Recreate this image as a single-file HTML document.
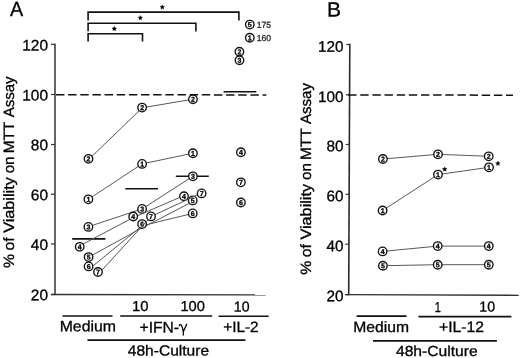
<!DOCTYPE html>
<html><head><meta charset="utf-8"><title>Figure</title>
<style>html,body{margin:0;padding:0;background:#fff;}body{width:520px;height:358px;overflow:hidden;}svg{display:block;will-change:transform;}text{font-family:"Liberation Sans",sans-serif;fill:#000;stroke:#000;stroke-width:0.3px;}</style>
</head><body>
<svg width="520" height="358" viewBox="0 0 520 358">
<rect width="520" height="358" fill="#fff"/>
<path d="M55.0,43.7L55.0,295.1" fill="none" stroke="#505050" stroke-width="1.75"/>
<path d="M51.0,294.5L265.6,294.8" fill="none" stroke="#333" stroke-width="1.3"/>
<line x1="51.0" y1="44.3" x2="55.0" y2="44.3" stroke="#333" stroke-width="1.2"/>
<line x1="51.0" y1="94.5" x2="55.0" y2="94.5" stroke="#333" stroke-width="1.2"/>
<line x1="51.0" y1="144.5" x2="55.0" y2="144.5" stroke="#333" stroke-width="1.2"/>
<line x1="51.0" y1="194.2" x2="55.0" y2="194.2" stroke="#333" stroke-width="1.2"/>
<line x1="51.0" y1="243.9" x2="55.0" y2="243.9" stroke="#333" stroke-width="1.2"/>
<line x1="51.0" y1="294.5" x2="55.0" y2="294.5" stroke="#333" stroke-width="1.2"/>
<line x1="56.0" y1="94.8" x2="266.3" y2="94.9" stroke="#111" stroke-width="1.5" stroke-dasharray="8.4 3.75"/>
<text transform="translate(22.21,50.60) rotate(0.03) scale(1.0100,1)" font-size="15.3">120</text>
<text transform="translate(22.21,100.60) rotate(0.03) scale(1.0100,1)" font-size="15.3">100</text>
<text transform="translate(30.83,150.30) rotate(0.03) scale(1.0100,1)" font-size="15.3">80</text>
<text transform="translate(30.83,200.30) rotate(0.03) scale(1.0100,1)" font-size="15.3">60</text>
<text transform="translate(30.83,250.10) rotate(0.03) scale(1.0100,1)" font-size="15.3">40</text>
<text transform="translate(30.83,300.30) rotate(0.03) scale(1.0100,1)" font-size="15.3">20</text>
<path d="M349.8,43.8L348.7,295.2" fill="none" stroke="#2a2a2a" stroke-width="1.6"/>
<path d="M345.09999999999997,294.65L518.7,295.3" fill="none" stroke="#333" stroke-width="1.3"/>
<line x1="346.2" y1="44.5" x2="349.8" y2="44.5" stroke="#333" stroke-width="1.2"/>
<line x1="346.0" y1="94.8" x2="349.6" y2="94.8" stroke="#333" stroke-width="1.2"/>
<line x1="345.8" y1="144.5" x2="349.4" y2="144.5" stroke="#333" stroke-width="1.2"/>
<line x1="345.5" y1="194.3" x2="349.1" y2="194.3" stroke="#333" stroke-width="1.2"/>
<line x1="345.3" y1="244.2" x2="348.9" y2="244.2" stroke="#333" stroke-width="1.2"/>
<line x1="345.1" y1="294.6" x2="348.7" y2="294.6" stroke="#333" stroke-width="1.2"/>
<line x1="348.1" y1="94.9" x2="513.0" y2="95.2" stroke="#111" stroke-width="1.5" stroke-dasharray="8.4 3.75"/>
<text transform="translate(317.91,51.70) rotate(0.03) scale(1.0000,1)" font-size="15.3">120</text>
<text transform="translate(317.91,101.95) rotate(0.03) scale(1.0000,1)" font-size="15.3">100</text>
<text transform="translate(326.44,151.35) rotate(0.03) scale(1.0000,1)" font-size="15.3">80</text>
<text transform="translate(326.44,201.15) rotate(0.03) scale(1.0000,1)" font-size="15.3">60</text>
<text transform="translate(326.44,251.35) rotate(0.03) scale(1.0000,1)" font-size="15.3">40</text>
<text transform="translate(326.44,301.20) rotate(0.03) scale(1.0000,1)" font-size="15.3">20</text>
<text transform="translate(14.0,267.50) rotate(-89.97) scale(1.0520,1)" x="-0.53" y="0" font-size="15.0">%</text>
<text transform="translate(14.0,249.90) rotate(-89.97) scale(1.0515,1)" x="-0.64" y="0" font-size="15.0">of</text>
<text transform="translate(14.0,232.80) rotate(-89.97) scale(1.0838,1)" x="-0.07" y="0" font-size="15.0">Viability</text>
<text transform="translate(14.0,172.70) rotate(-89.97) scale(1.0108,1)" x="-0.64" y="0" font-size="15.0">on</text>
<text transform="translate(14.0,152.00) rotate(-89.97) scale(1.0222,1)" x="-1.24" y="0" font-size="15.0">MTT</text>
<text transform="translate(14.0,117.30) rotate(-89.97) scale(1.0034,1)" x="-0.04" y="0" font-size="15.0">Assay</text>
<text transform="translate(311.1,274.20) rotate(-89.97) scale(1.0520,1)" x="-0.53" y="0" font-size="15.0">%</text>
<text transform="translate(311.1,256.60) rotate(-89.97) scale(1.0515,1)" x="-0.64" y="0" font-size="15.0">of</text>
<text transform="translate(311.1,239.50) rotate(-89.97) scale(1.0838,1)" x="-0.07" y="0" font-size="15.0">Viability</text>
<text transform="translate(311.1,179.40) rotate(-89.97) scale(1.0108,1)" x="-0.64" y="0" font-size="15.0">on</text>
<text transform="translate(311.1,158.70) rotate(-89.97) scale(1.0222,1)" x="-1.24" y="0" font-size="15.0">MTT</text>
<text transform="translate(311.1,124.00) rotate(-89.97) scale(1.0034,1)" x="-0.04" y="0" font-size="15.0">Assay</text>
<text transform="translate(9.95,15.90) rotate(0.03) scale(0.9599,1)" font-size="20.6">A</text>
<text transform="translate(327.06,16.40) rotate(0.03) scale(1.0210,1)" font-size="20.6">B</text>
<path d="M88.1,20.4V12.1H238.9V20.5" fill="none" stroke="#111" stroke-width="1.6"/>
<path d="M88.1,31.2V23.3H195.9V31.6" fill="none" stroke="#111" stroke-width="1.6"/>
<path d="M88.1,41.5V33.8H142.5V41.5" fill="none" stroke="#111" stroke-width="1.6"/>
<polygon points="162.30,4.75 162.98,6.27 164.63,6.44 163.40,7.56 163.74,9.18 162.30,8.35 160.86,9.18 161.20,7.56 159.97,6.44 161.62,6.27" fill="#000" stroke="#000" stroke-width="0.3"/>
<polygon points="140.30,15.45 140.98,16.97 142.63,17.14 141.40,18.26 141.74,19.88 140.30,19.05 138.86,19.88 139.20,18.26 137.97,17.14 139.62,16.97" fill="#000" stroke="#000" stroke-width="0.3"/>
<polygon points="114.30,26.35 114.98,27.87 116.63,28.04 115.40,29.16 115.74,30.78 114.30,29.95 112.86,30.78 113.20,29.16 111.97,28.04 113.62,27.87" fill="#000" stroke="#000" stroke-width="0.3"/>
<polygon points="444.70,166.85 445.38,168.37 447.03,168.54 445.80,169.66 446.14,171.28 444.70,170.45 443.26,171.28 443.60,169.66 442.37,168.54 444.02,168.37" fill="#000" stroke="#000" stroke-width="0.3"/>
<polygon points="497.90,161.05 498.58,162.57 500.23,162.74 499.00,163.86 499.34,165.48 497.90,164.65 496.46,165.48 496.80,163.86 495.57,162.74 497.22,162.57" fill="#000" stroke="#000" stroke-width="0.3"/>
<line x1="72.2" y1="238.9" x2="105.4" y2="238.9" stroke="#111" stroke-width="1.6"/>
<line x1="125.3" y1="188.8" x2="158.0" y2="188.8" stroke="#111" stroke-width="1.6"/>
<line x1="175.8" y1="176.3" x2="208.8" y2="176.3" stroke="#111" stroke-width="1.6"/>
<line x1="223.6" y1="91.7" x2="256.3" y2="91.7" stroke="#111" stroke-width="1.6"/>
<path d="M88.4,199.3 L142.1,163.9 L192.9,153.2" fill="none" stroke="#585858" stroke-width="1.0" stroke-linejoin="round"/>
<circle cx="88.4" cy="199.3" r="4.25" fill="#fff" stroke="#111" stroke-width="1.35"/>
<text transform="translate(88.4,201.80) rotate(0.03)" font-size="7.0" font-weight="bold" text-anchor="middle" stroke-width="0.1">1</text>
<circle cx="142.1" cy="163.9" r="4.25" fill="#fff" stroke="#111" stroke-width="1.35"/>
<text transform="translate(142.1,166.40) rotate(0.03)" font-size="7.0" font-weight="bold" text-anchor="middle" stroke-width="0.1">1</text>
<circle cx="192.9" cy="153.2" r="4.25" fill="#fff" stroke="#111" stroke-width="1.35"/>
<text transform="translate(192.9,155.70) rotate(0.03)" font-size="7.0" font-weight="bold" text-anchor="middle" stroke-width="0.1">1</text>
<path d="M88.9,159.2 L142.3,107.8 L192.95,99.2" fill="none" stroke="#585858" stroke-width="1.0" stroke-linejoin="round"/>
<circle cx="88.5" cy="158.8" r="4.25" fill="#fff" stroke="#111" stroke-width="1.35"/>
<text transform="translate(88.5,161.30) rotate(0.03)" font-size="7.0" font-weight="bold" text-anchor="middle" stroke-width="0.1">2</text>
<circle cx="142.1" cy="107.6" r="4.25" fill="#fff" stroke="#111" stroke-width="1.35"/>
<text transform="translate(142.1,110.10) rotate(0.03)" font-size="7.0" font-weight="bold" text-anchor="middle" stroke-width="0.1">2</text>
<circle cx="192.95" cy="99.2" r="4.25" fill="#fff" stroke="#111" stroke-width="1.35"/>
<text transform="translate(192.95,101.70) rotate(0.03)" font-size="7.0" font-weight="bold" text-anchor="middle" stroke-width="0.1">2</text>
<path d="M88.4,226.7 L142.1,208.9 L192.9,176.3" fill="none" stroke="#585858" stroke-width="1.0" stroke-linejoin="round"/>
<circle cx="88.4" cy="226.9" r="4.25" fill="#fff" stroke="#111" stroke-width="1.35"/>
<text transform="translate(88.4,229.40) rotate(0.03)" font-size="7.0" font-weight="bold" text-anchor="middle" stroke-width="0.1">3</text>
<circle cx="142.1" cy="208.9" r="4.25" fill="#fff" stroke="#111" stroke-width="1.35"/>
<text transform="translate(142.1,211.40) rotate(0.03)" font-size="7.0" font-weight="bold" text-anchor="middle" stroke-width="0.1">3</text>
<circle cx="192.9" cy="176.3" r="4.25" fill="#fff" stroke="#111" stroke-width="1.35"/>
<text transform="translate(192.9,178.80) rotate(0.03)" font-size="7.0" font-weight="bold" text-anchor="middle" stroke-width="0.1">3</text>
<path d="M79.7,245.8 L133.2,217.6 L184.0,195.6" fill="none" stroke="#585858" stroke-width="1.0" stroke-linejoin="round"/>
<circle cx="79.7" cy="246.8" r="4.25" fill="#fff" stroke="#111" stroke-width="1.35"/>
<text transform="translate(79.7,249.30) rotate(0.03)" font-size="7.0" font-weight="bold" text-anchor="middle" stroke-width="0.1">4</text>
<circle cx="133.2" cy="216.5" r="4.25" fill="#fff" stroke="#111" stroke-width="1.35"/>
<text transform="translate(133.2,219.00) rotate(0.03)" font-size="7.0" font-weight="bold" text-anchor="middle" stroke-width="0.1">4</text>
<circle cx="184.0" cy="196.2" r="4.25" fill="#fff" stroke="#111" stroke-width="1.35"/>
<text transform="translate(184.0,198.70) rotate(0.03)" font-size="7.0" font-weight="bold" text-anchor="middle" stroke-width="0.1">4</text>
<path d="M88.6,257.2 L142.1,227.8 L192.7,201.6" fill="none" stroke="#585858" stroke-width="1.0" stroke-linejoin="round"/>
<circle cx="88.6" cy="257.1" r="4.25" fill="#fff" stroke="#111" stroke-width="1.35"/>
<text transform="translate(88.6,259.60) rotate(0.03)" font-size="7.0" font-weight="bold" text-anchor="middle" stroke-width="0.1">5</text>
<circle cx="192.7" cy="200.4" r="4.25" fill="#fff" stroke="#111" stroke-width="1.35"/>
<text transform="translate(192.7,202.90) rotate(0.03)" font-size="7.0" font-weight="bold" text-anchor="middle" stroke-width="0.1">5</text>
<path d="M88.6,269.5 L142.1,225.8 L192.7,213.4" fill="none" stroke="#585858" stroke-width="1.0" stroke-linejoin="round"/>
<circle cx="88.6" cy="266.4" r="4.25" fill="#fff" stroke="#111" stroke-width="1.35"/>
<text transform="translate(88.6,268.90) rotate(0.03)" font-size="7.0" font-weight="bold" text-anchor="middle" stroke-width="0.1">6</text>
<circle cx="142.1" cy="224.1" r="4.25" fill="#fff" stroke="#111" stroke-width="1.35"/>
<text transform="translate(142.1,226.60) rotate(0.03)" font-size="7.0" font-weight="bold" text-anchor="middle" stroke-width="0.1">6</text>
<circle cx="192.7" cy="213.4" r="4.25" fill="#fff" stroke="#111" stroke-width="1.35"/>
<text transform="translate(192.7,215.90) rotate(0.03)" font-size="7.0" font-weight="bold" text-anchor="middle" stroke-width="0.1">6</text>
<path d="M98.0,274.5 L151.0,216.5 L201.6,193.0" fill="none" stroke="#585858" stroke-width="1.0" stroke-linejoin="round"/>
<circle cx="98.0" cy="272.0" r="4.25" fill="#fff" stroke="#111" stroke-width="1.35"/>
<text transform="translate(98.0,274.50) rotate(0.03)" font-size="7.0" font-weight="bold" text-anchor="middle" stroke-width="0.1">7</text>
<circle cx="151.0" cy="216.4" r="4.25" fill="#fff" stroke="#111" stroke-width="1.35"/>
<text transform="translate(151.0,218.90) rotate(0.03)" font-size="7.0" font-weight="bold" text-anchor="middle" stroke-width="0.1">7</text>
<circle cx="201.6" cy="193.4" r="4.25" fill="#fff" stroke="#111" stroke-width="1.35"/>
<text transform="translate(201.6,195.90) rotate(0.03)" font-size="7.0" font-weight="bold" text-anchor="middle" stroke-width="0.1">7</text>
<circle cx="249.8" cy="24.6" r="4.25" fill="#fff" stroke="#111" stroke-width="1.35"/>
<text transform="translate(249.8,27.10) rotate(0.03)" font-size="7.0" font-weight="bold" text-anchor="middle" stroke-width="0.1">5</text>
<circle cx="249.8" cy="37.7" r="4.25" fill="#fff" stroke="#111" stroke-width="1.35"/>
<text transform="translate(249.8,40.20) rotate(0.03)" font-size="7.0" font-weight="bold" text-anchor="middle" stroke-width="0.1">1</text>
<circle cx="239.4" cy="51.7" r="4.25" fill="#fff" stroke="#111" stroke-width="1.35"/>
<text transform="translate(239.4,54.20) rotate(0.03)" font-size="7.0" font-weight="bold" text-anchor="middle" stroke-width="0.1">2</text>
<circle cx="239.5" cy="60.2" r="4.25" fill="#fff" stroke="#111" stroke-width="1.35"/>
<text transform="translate(239.5,62.70) rotate(0.03)" font-size="7.0" font-weight="bold" text-anchor="middle" stroke-width="0.1">3</text>
<circle cx="240.9" cy="152.2" r="4.25" fill="#fff" stroke="#111" stroke-width="1.35"/>
<text transform="translate(240.9,154.70) rotate(0.03)" font-size="7.0" font-weight="bold" text-anchor="middle" stroke-width="0.1">4</text>
<circle cx="240.9" cy="182.3" r="4.25" fill="#fff" stroke="#111" stroke-width="1.35"/>
<text transform="translate(240.9,184.80) rotate(0.03)" font-size="7.0" font-weight="bold" text-anchor="middle" stroke-width="0.1">7</text>
<circle cx="240.9" cy="202.5" r="4.25" fill="#fff" stroke="#111" stroke-width="1.35"/>
<text transform="translate(240.9,205.00) rotate(0.03)" font-size="7.0" font-weight="bold" text-anchor="middle" stroke-width="0.1">6</text>
<text transform="translate(256.66,27.70) rotate(0.03) scale(1.0000,1)" font-size="8.6" stroke-width="0.1" style="fill:#2a2a2a;stroke:#2a2a2a">175</text>
<text transform="translate(256.66,40.90) rotate(0.03) scale(1.0000,1)" font-size="8.6" stroke-width="0.1" style="fill:#2a2a2a;stroke:#2a2a2a">160</text>
<path d="M382.9,265.7 L437.7,264.7 L488.8,264.7" fill="none" stroke="#585858" stroke-width="1.0" stroke-linejoin="round"/>
<circle cx="382.9" cy="265.7" r="4.25" fill="#fff" stroke="#111" stroke-width="1.35"/>
<text transform="translate(382.9,268.20) rotate(0.03)" font-size="7.0" font-weight="bold" text-anchor="middle" stroke-width="0.1">5</text>
<circle cx="437.7" cy="264.7" r="4.25" fill="#fff" stroke="#111" stroke-width="1.35"/>
<text transform="translate(437.7,267.20) rotate(0.03)" font-size="7.0" font-weight="bold" text-anchor="middle" stroke-width="0.1">5</text>
<circle cx="488.8" cy="264.7" r="4.25" fill="#fff" stroke="#111" stroke-width="1.35"/>
<text transform="translate(488.8,267.20) rotate(0.03)" font-size="7.0" font-weight="bold" text-anchor="middle" stroke-width="0.1">5</text>
<path d="M382.6,251.4 L437.7,246.1 L488.8,246.1" fill="none" stroke="#585858" stroke-width="1.0" stroke-linejoin="round"/>
<circle cx="382.6" cy="251.4" r="4.25" fill="#fff" stroke="#111" stroke-width="1.35"/>
<text transform="translate(382.6,253.90) rotate(0.03)" font-size="7.0" font-weight="bold" text-anchor="middle" stroke-width="0.1">4</text>
<circle cx="437.7" cy="246.1" r="4.25" fill="#fff" stroke="#111" stroke-width="1.35"/>
<text transform="translate(437.7,248.60) rotate(0.03)" font-size="7.0" font-weight="bold" text-anchor="middle" stroke-width="0.1">4</text>
<circle cx="488.8" cy="246.1" r="4.25" fill="#fff" stroke="#111" stroke-width="1.35"/>
<text transform="translate(488.8,248.60) rotate(0.03)" font-size="7.0" font-weight="bold" text-anchor="middle" stroke-width="0.1">4</text>
<path d="M382.9,159.0 L438.0,154.3 L488.7,156.3" fill="none" stroke="#585858" stroke-width="1.0" stroke-linejoin="round"/>
<circle cx="382.9" cy="159.0" r="4.25" fill="#fff" stroke="#111" stroke-width="1.35"/>
<text transform="translate(382.9,161.50) rotate(0.03)" font-size="7.0" font-weight="bold" text-anchor="middle" stroke-width="0.1">2</text>
<circle cx="438.0" cy="154.3" r="4.25" fill="#fff" stroke="#111" stroke-width="1.35"/>
<text transform="translate(438.0,156.80) rotate(0.03)" font-size="7.0" font-weight="bold" text-anchor="middle" stroke-width="0.1">2</text>
<circle cx="488.7" cy="156.3" r="4.25" fill="#fff" stroke="#111" stroke-width="1.35"/>
<text transform="translate(488.7,158.80) rotate(0.03)" font-size="7.0" font-weight="bold" text-anchor="middle" stroke-width="0.1">2</text>
<path d="M382.6,210.5 L438.0,174.6 L489.0,167.3" fill="none" stroke="#585858" stroke-width="1.0" stroke-linejoin="round"/>
<circle cx="382.6" cy="210.5" r="4.25" fill="#fff" stroke="#111" stroke-width="1.35"/>
<text transform="translate(382.6,213.00) rotate(0.03)" font-size="7.0" font-weight="bold" text-anchor="middle" stroke-width="0.1">1</text>
<circle cx="438.0" cy="174.6" r="4.25" fill="#fff" stroke="#111" stroke-width="1.35"/>
<text transform="translate(438.0,177.10) rotate(0.03)" font-size="7.0" font-weight="bold" text-anchor="middle" stroke-width="0.1">1</text>
<circle cx="489.0" cy="167.3" r="4.25" fill="#fff" stroke="#111" stroke-width="1.35"/>
<text transform="translate(489.0,169.80) rotate(0.03)" font-size="7.0" font-weight="bold" text-anchor="middle" stroke-width="0.1">1</text>
<line x1="62.5" y1="316.0" x2="112.5" y2="316.0" stroke="#111" stroke-width="1.6"/>
<line x1="120.2" y1="316.0" x2="212.2" y2="316.0" stroke="#111" stroke-width="1.6"/>
<line x1="218.6" y1="316.3" x2="268.7" y2="316.3" stroke="#111" stroke-width="1.6"/>
<line x1="87.5" y1="340.1" x2="245.4" y2="340.1" stroke="#111" stroke-width="1.6"/>
<line x1="356.6" y1="316.1" x2="406.6" y2="316.1" stroke="#111" stroke-width="1.6"/>
<line x1="418.4" y1="316.6" x2="511.4" y2="316.6" stroke="#111" stroke-width="1.6"/>
<line x1="373" y1="340.9" x2="496.9" y2="340.9" stroke="#111" stroke-width="1.6"/>
<text transform="translate(59.70,331.35) rotate(0.03) scale(1.0545,1)" font-size="15.0">Medium</text>
<text transform="translate(353.20,332.00) rotate(0.03) scale(1.0467,1)" font-size="15.0">Medium</text>
<text transform="translate(131.99,311.10) rotate(0.03) scale(1.0304,1)" font-size="14.4">10</text>
<text transform="translate(180.40,311.10) rotate(0.03) scale(1.0227,1)" font-size="14.4">100</text>
<text transform="translate(233.84,311.50) rotate(0.03) scale(0.9816,1)" font-size="14.4">10</text>
<text transform="translate(139.52,332.40) rotate(0.03) scale(1.0171,1)" font-size="15.4">+IFN-</text>
<path d="M179.3,325.9 Q179.7,324.3 180.8,324.5 Q182.2,325.6 183.3,331.6 L183.3,335.0 M186.7,324.2 L183.3,331.8" fill="none" stroke="#000" stroke-width="1.25" stroke-linecap="round" stroke-linejoin="round"/>
<text transform="translate(223.23,332.00) rotate(0.03) scale(1.0249,1)" font-size="15.0">+IL-2</text>
<text transform="translate(127.75,355.50) rotate(0.03) scale(1.0672,1)" font-size="14.6">48h-Culture</text>
<text transform="translate(395.95,356.00) rotate(0.03) scale(1.0725,1)" font-size="14.6">48h-Culture</text>
<text transform="translate(434.77,311.60) rotate(0.03) scale(0.7707,1)" font-size="14.4">1</text>
<text transform="translate(479.34,311.60) rotate(0.03) scale(0.9816,1)" font-size="14.4">10</text>
<text transform="translate(439.01,332.10) rotate(0.03) scale(1.0336,1)" font-size="15.2">+IL-12</text>
</svg></body></html>
